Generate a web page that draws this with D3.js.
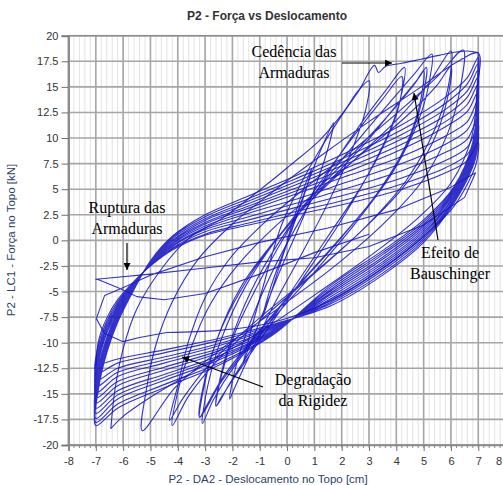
<!DOCTYPE html>
<html>
<head>
<meta charset="utf-8">
<script src="https://cdn.jsdelivr.net/npm/d3@7"></script>
<style>
  body { margin: 0; background: #fff; }
  svg { display: block; }
</style>
</head>
<body>
<svg id="chart" width="503" height="485"></svg>
<script>
// Axis ticks
const xTickValues = [-8, -7, -6, -5, -4, -3, -2, -1, 0, 1, 2, 3, 4, 5, 6, 7, 8];
const yTickValues = [-20, -17.5, -15, -12.5, -10, -7.5, -5, -2.5, 0, 2.5, 5, 7.5, 10, 12.5, 15, 17.5, 20];

// Displacement [cm], force [kN] — early elastic cycles
const elasticCycles = [
  [0, 0], [0.35, 3], [0.8, 6.4], [0.9, 7.0], [0.6, 4.2], [0, -0.3], [-0.5, -4.4], [-0.85, -7.2], [-0.9, -7.5],
  [-0.6, -4.6], [0, -0.2], [0.6, 4.4], [1.2, 8.6], [1.7, 11.5], [1.5, 9.0], [0.8, 3.6], [-0.2, -2.6],
  [-1.0, -7.9], [-1.5, -11.2], [-1.6, -12.0], [-1.3, -8.6], [-0.8, -3.8]
];

// Cycles of growing amplitude up to first yielding
const growingCycles = [
  [-0.8, -3.8], [-0.2, 1.5], [0.5, 5.5], [1.3, 9.3], [2.1, 12.6], [2.6, 14.6], [3.0, 15.6], [2.9, 13.0], [2.4, 9.0],
  [1.6, 4.2], [0.6, -1.0], [-0.5, -6.4], [-1.4, -11.4], [-1.9, -14.3], [-2.1, -15.5],
  [-1.9, -12.6], [-1.4, -8.4], [-0.6, -3.4], [0.5, 2.1], [1.6, 7.0], [2.7, 11.4], [3.6, 14.6], [4.3, 16.9],
  [4.2, 14.4], [3.8, 11.0], [3.0, 6.6], [1.9, 1.6], [0.6, -3.6], [-0.7, -8.6], [-1.8, -12.9], [-2.4, -15.3], [-2.6, -16.2],
  [-2.4, -13.2], [-1.9, -9.0], [-1.0, -4.0], [0.1, 1.2], [1.3, 6.0], [2.5, 10.4], [3.5, 13.8], [4.2, 16.0],
  [4.1, 13.2], [3.6, 9.6], [2.7, 5.2], [1.5, 0.4], [0.2, -4.8], [-1.1, -9.8], [-2.1, -14.0], [-2.6, -16.2],
  [-2.4, -12.9], [-1.9, -8.6], [-1.1, -3.8], [0.0, 1.0], [1.3, 5.6], [2.6, 9.8], [3.8, 13.6], [4.7, 16.4], [5.3, 18.2],
  [5.2, 15.4], [4.8, 11.6], [3.9, 6.8], [2.6, 2.0], [1.1, -2.8], [-0.5, -7.6], [-1.9, -12.2], [-2.7, -15.6], [-3.1, -17.9],
  [-2.9, -14.2], [-2.4, -9.6], [-1.5, -4.4], [-0.3, 0.4], [1.1, 4.9], [2.6, 9.0], [3.9, 12.8], [4.7, 15.4], [5.0, 16.6],
  [4.85, 13.2], [4.3, 9.0], [3.3, 4.6], [1.9, 0.0], [0.3, -4.8], [-1.2, -9.6], [-2.4, -13.8], [-3.2, -17.3],
  [-3.0, -13.5], [-2.4, -8.6], [-1.4, -3.6], [-0.1, 1.0], [1.4, 5.4], [2.9, 9.6], [4.0, 13.2], [4.8, 15.8], [5.1, 16.9],
  [4.95, 13.8], [4.5, 10.0], [3.6, 5.6], [2.2, 1.0], [0.6, -3.8], [-1.0, -8.8], [-2.3, -13.2], [-3.0, -16.4], [-3.2, -17.3],
  [-3.0, -13.8], [-2.5, -9.2], [-1.7, -4.6], [-0.5, -0.2], [1.0, 4.2], [2.6, 8.2], [4.1, 12.0], [5.2, 15.4], [6.0, 18.5],
  [5.9, 15.0], [5.4, 10.8], [4.4, 6.0], [2.9, 1.4], [1.1, -3.0], [-0.8, -7.4], [-2.5, -11.6], [-3.6, -15.2], [-4.2, -18.1],
  [-4.0, -14.8], [-3.5, -10.4], [-2.8, -6.2], [-1.8, -2.4], [-0.5, 1.2], [1.1, 4.8], [2.8, 8.6], [4.4, 12.2], [5.5, 15.2], [6.0, 17.0],
  [5.85, 13.6], [5.3, 9.4], [4.2, 5.0], [2.6, 0.6], [0.8, -3.6], [-1.1, -7.8], [-2.8, -12.0], [-3.8, -15.4], [-4.3, -17.6],
  [-4.0, -14.2], [-3.6, -9.8], [-3.0, -5.6], [-2.1, -1.8], [-0.8, 1.8], [0.7, 5.2], [2.4, 8.8], [4.1, 12.6], [5.5, 16.0], [6.45, 18.6],
  [6.35, 15.0], [5.9, 10.6], [5.0, 6.0], [3.6, 1.8], [1.8, -2.4], [-0.3, -6.6], [-2.4, -10.6], [-4.1, -14.4], [-5.3, -18.6],
  [-5.15, -14.6], [-4.8, -10.2], [-4.2, -6.0], [-3.3, -2.0], [-2.0, 1.6], [-0.5, 4.8], [1.2, 8.2], [3.0, 11.6], [4.8, 14.8], [6.2, 17.4], [7.0, 18.3],
  [6.95, 14.6], [6.75, 10.0], [6.0, 5.6], [4.8, 2.2], [3.2, -1.2], [1.3, -4.8], [-0.8, -8.6], [-2.9, -12.0], [-4.8, -15.0], [-6.0, -17.2], [-6.45, -18.4]
];

// Reloading along the envelope, yielding plateau of the bars
const yieldEnvelope = [
  [-6.45, -18.4], [-6.3, -14.6], [-6.0, -10.6], [-5.5, -6.7], [-4.6, -2.8], [-3.6, 0.2], [-2.35, 2.2], [-0.63, 5.7],
  [0.1, 7.3], [1.2, 9.8], [2.0, 12.3], [2.6, 14.5], [3.2, 17.1], [3.35, 16.4], [3.6, 17.0], [4.2, 17.3],
  [4.9, 17.7], [5.6, 18.1], [6.2, 18.4], [6.6, 18.5], [7.0, 18.35]
];

// Repeated ±7 cm cycles with strength degradation
const repeatedCycles = [
  [7.0, 18.35],
  [6.95, 14.5], [6.8, 9.6], [6.1, 5.2], [5.0, 2.0], [3.5, -1.0], [1.6, -4.4], [-0.5, -9.2], [-2.5, -12.2], [-4.5, -14.4], [-6.2, -16.4], [-7, -18.1],
  [-6.9, -14.5], [-6.6, -11.0], [-6.2, -8.0], [-5.6, -4.8], [-5.0, -2.0], [-4.2, 0.4], [-3.0, 2.5], [-1.4, 4.35], [0.3, 6.3], [2.2, 8.6], [4.2, 11.3], [5.8, 14.0], [6.6, 15.9], [7, 17.9],
  [6.95, 14.2], [6.8, 9.4], [6.1, 5.05], [5.0, 1.8], [3.5, -1.2], [1.6, -4.6], [-0.5, -9.1], [-2.5, -12.0], [-4.5, -14.1], [-6.2, -16.0], [-7, -17.8],
  [-6.9, -14.1], [-6.6, -10.7], [-6.2, -7.8], [-5.6, -4.7], [-5.0, -2.05], [-4.2, 0.3], [-3.0, 2.3], [-1.4, 4.1], [0.3, 6.0], [2.2, 8.2], [4.2, 10.8], [5.8, 13.4], [6.6, 15.3], [7, 17.3],
  [6.95, 13.8], [6.8, 9.2], [6.1, 4.9], [5.0, 1.6], [3.5, -1.4], [1.6, -4.8], [-0.5, -9.0], [-2.5, -11.7], [-4.5, -13.7], [-6.2, -15.5], [-7, -17.4],
  [-6.9, -13.6], [-6.6, -10.4], [-6.2, -7.6], [-5.6, -4.65], [-5.0, -2.1], [-4.2, 0.15], [-3.0, 2.1], [-1.4, 3.85], [0.3, 5.7], [2.2, 7.85], [4.2, 10.35], [5.8, 12.8], [6.6, 14.6], [7, 16.7],
  [6.95, 13.4], [6.8, 8.9], [6.1, 4.75], [5.0, 1.4], [3.5, -1.65], [1.6, -4.95], [-0.5, -8.9], [-2.5, -11.5], [-4.5, -13.4], [-6.2, -15.1], [-7, -16.9],
  [-6.9, -13.2], [-6.6, -10.1], [-6.2, -7.4], [-5.6, -4.6], [-5.0, -2.15], [-4.2, 0.0], [-3.0, 1.95], [-1.4, 3.6], [0.3, 5.4], [2.2, 7.5], [4.2, 9.9], [5.8, 12.2], [6.6, 14.0], [7, 16.0],
  [6.95, 12.8], [6.8, 8.7], [6.1, 4.6], [5.0, 1.2], [3.5, -1.85], [1.6, -5.15], [-0.5, -8.85], [-2.5, -11.3], [-4.5, -13.1], [-6.2, -14.7], [-7, -16.4],
  [-6.9, -12.8], [-6.6, -9.8], [-6.2, -7.2], [-5.6, -4.5], [-5.0, -2.2], [-4.2, -0.1], [-3.0, 1.75], [-1.4, 3.35], [0.3, 5.1], [2.2, 7.1], [4.2, 9.4], [5.8, 11.6], [6.6, 13.3], [7, 15.3],
  [6.95, 12.3], [6.8, 8.5], [6.1, 4.5], [5.0, 1.0], [3.5, -2.1], [1.6, -5.3], [-0.5, -8.8], [-2.5, -11.0], [-4.5, -12.7], [-6.2, -14.2], [-7, -15.9],
  [-6.9, -12.4], [-6.6, -9.5], [-6.2, -7.0], [-5.6, -4.45], [-5.0, -2.25], [-4.2, -0.25], [-3.0, 1.6], [-1.4, 3.15], [0.3, 4.8], [2.2, 6.7], [4.2, 8.9], [5.8, 11.1], [6.6, 12.6], [7, 14.6],
  [6.95, 11.8], [6.8, 8.3], [6.1, 4.3], [5.0, 0.8], [3.5, -2.3], [1.6, -5.5], [-0.5, -8.7], [-2.5, -10.8], [-4.5, -12.4], [-6.2, -13.8], [-7, -15.4],
  [-6.9, -11.9], [-6.6, -9.1], [-6.2, -6.8], [-5.6, -4.35], [-5.0, -2.25], [-4.2, -0.35], [-3.0, 1.4], [-1.4, 2.9], [0.3, 4.5], [2.2, 6.3], [4.2, 8.2], [5.8, 10.2], [6.6, 11.6], [7, 13.8],
  [6.95, 11.1], [6.8, 8.1], [6.1, 4.2], [5.0, 0.6], [3.5, -2.5], [1.6, -5.7], [-0.5, -8.6], [-2.5, -10.6], [-4.5, -12.0], [-6.2, -13.3], [-7, -14.9],
  [-6.9, -11.5], [-6.6, -8.8], [-6.2, -6.6], [-5.6, -4.3], [-5.0, -2.3], [-4.2, -0.5], [-3.0, 1.2], [-1.4, 2.65], [0.3, 4.0], [2.2, 5.7], [4.2, 7.5], [5.8, 9.4], [6.6, 10.8], [7, 13.0],
  [6.95, 10.5], [6.8, 7.9], [6.1, 4.0], [5.0, 0.4], [3.5, -2.75], [1.6, -5.85], [-0.5, -8.5], [-2.5, -10.3], [-4.5, -11.7], [-6.2, -12.9], [-7, -14.3],
  [-6.9, -11.1], [-6.6, -8.5], [-6.2, -6.4], [-5.6, -4.2], [-5.0, -2.35], [-4.2, -0.6], [-3.0, 1.05], [-1.4, 2.3], [0.3, 3.6], [2.2, 5.1], [4.2, 6.8], [5.8, 8.6], [6.6, 9.9], [7, 12.2],
  [6.95, 9.9], [6.8, 7.6], [6.1, 3.9], [5.0, 0.2], [3.5, -2.95], [1.6, -6.05], [-0.5, -8.4], [-2.5, -10.1], [-4.5, -11.4], [-6.2, -12.5], [-7, -13.7],
  [-6.9, -10.7], [-6.6, -8.2], [-6.2, -6.2], [-5.6, -4.15], [-5.0, -2.4], [-4.2, -0.75], [-3.0, 0.85], [-1.4, 2.0], [0.3, 3.2], [2.2, 4.5], [4.2, 6.1], [5.8, 7.8], [6.6, 9.1], [7, 11.4],
  [6.95, 9.2], [6.8, 7.4], [6.1, 3.75], [5.0, 0.0], [3.5, -3.2], [1.6, -6.2], [-0.5, -8.3], [-2.5, -9.8], [-4.5, -11.0], [-6.2, -12.0], [-7, -13.0],
  [-6.9, -10.2], [-6.6, -7.9], [-6.2, -6.0], [-5.6, -4.1], [-5.0, -2.45], [-4.2, -0.85], [-3.0, 0.6], [-1.4, 1.7], [0.3, 2.8], [2.2, 4.0], [4.2, 5.5], [5.8, 7.1], [6.6, 8.4], [7, 10.6],
  [6.95, 8.6], [6.8, 7.2], [6.1, 3.6], [5.0, -0.2], [3.5, -3.4], [1.6, -6.4], [-0.5, -8.2], [-2.5, -9.6], [-4.5, -10.7], [-6.2, -11.6], [-7, -12.3]
];

// Last smooth cycle before the bars rupture
const lastCycle = [
  [-7, -12.3], [-6.9, -9.8], [-6.6, -7.6], [-6.2, -5.8], [-5.6, -4.0], [-5.0, -2.5], [-4.2, -0.95], [-3.0, 0.5], [-1.4, 1.5],
  [0.3, 2.5], [2.2, 3.6], [4.2, 5.0], [5.8, 6.6], [6.6, 7.8], [7, 9.6],
  [6.95, 7.8], [6.8, 6.6], [6.1, 3.3], [5.0, 0.4], [3.5, -2.7], [1.6, -5.9], [-0.5, -8.0], [-2.5, -8.8], [-4.4, -9.0]
];

// Broken path after the bars rupture near -7 cm
const ruptureCycles = [
  [-4.4, -9.0], [-5.4, -9.5], [-6.0, -9.9], [-6.68, -9.1], [-6.98, -7.65], [-6.68, -5.4], [-6.07, -4.7], [-5.0, -3.4],
  [-3.0, -1.6], [-1.0, -0.2], [1.5, 1.2], [4.0, 3.0], [6.0, 5.2], [6.9, 6.6],
  [6.5, 4.2], [5.0, 1.5], [3.0, -0.6], [1.0, -1.7], [-1.0, -2.1], [-3.0, -2.7], [-5.0, -3.3], [-6.6, -3.7], [-7.0, -3.8],
  [-6.9, -3.85], [-6.2, -4.6], [-5.5, -5.5], [-4.5, -5.8], [-3.0, -5.2], [-1.0, -3.3], [1.0, -1.2], [3.0, 0.6]
];

const smoothCurves = [elasticCycles, growingCycles, yieldEnvelope, repeatedCycles, lastCycle];

const svg = d3.select("#chart");
const W = 503, H = 485;
const plot = { left: 68.5, right: 505.6, top: 35.7, bottom: 445 };

const x = d3.scaleLinear().domain([-8, 8]).range([plot.left, plot.right]);
const y = d3.scaleLinear().domain([-20, 20]).range([plot.bottom, plot.top]);

svg.append("rect").attr("width", W).attr("height", H).attr("fill", "#fff");

// Minor vertical grid
svg.append("g").selectAll("line").data(x.ticks(80))
  .join("line")
  .attr("x1", d => x(d)).attr("x2", d => x(d))
  .attr("y1", plot.top).attr("y2", plot.bottom)
  .attr("stroke", "#e3e3e3").attr("stroke-width", 1);

// Major grid
svg.append("g").selectAll("line").data(xTickValues)
  .join("line")
  .attr("x1", d => x(d)).attr("x2", d => x(d))
  .attr("y1", plot.top).attr("y2", plot.bottom)
  .attr("stroke", "#a6a6a6").attr("stroke-width", 1.6);
svg.append("g").selectAll("line").data(yTickValues)
  .join("line")
  .attr("x1", plot.left).attr("x2", plot.right)
  .attr("y1", d => y(d)).attr("y2", d => y(d))
  .attr("stroke", "#a6a6a6").attr("stroke-width", 1.6);

// Plot frame
svg.append("rect")
  .attr("x", plot.left).attr("y", plot.top)
  .attr("width", plot.right - plot.left).attr("height", plot.bottom - plot.top)
  .attr("fill", "none").attr("stroke", "#8c8c8c").attr("stroke-width", 1.5);

// Hysteresis curves
svg.append("clipPath").attr("id", "clip").append("rect")
  .attr("x", plot.left).attr("y", plot.top)
  .attr("width", plot.right - plot.left).attr("height", plot.bottom - plot.top);

const smoothLine = d3.line()
  .x(d => x(d[0])).y(d => y(d[1]))
  .curve(d3.curveCatmullRom.alpha(0.5));
const straightLine = d3.line()
  .x(d => x(d[0])).y(d => y(d[1]));

const curveLayer = svg.append("g").attr("clip-path", "url(#clip)");
const styleCurve = sel => sel
  .attr("fill", "none")
  .attr("stroke", "#1717c4")
  .attr("stroke-width", 1.1)
  .attr("stroke-opacity", 0.88)
  .attr("stroke-linejoin", "round");

curveLayer.selectAll("path.smooth").data(smoothCurves)
  .join("path").attr("class", "smooth")
  .attr("d", smoothLine)
  .call(styleCurve);
curveLayer.append("path").datum(ruptureCycles)
  .attr("d", straightLine)
  .call(styleCurve);

// Axes
const axisFont = "'Liberation Sans', Arial, sans-serif";
const yAxis = d3.axisLeft(y).tickValues(yTickValues).tickSize(7).tickPadding(3)
  .tickFormat(d => String(d));
const gy = svg.append("g").attr("transform", `translate(${plot.left},0)`).call(yAxis);
gy.select(".domain").attr("stroke", "#8c8c8c").attr("stroke-width", 2);
gy.selectAll(".tick line").attr("stroke", "#707070");
gy.selectAll("text").attr("font-family", axisFont).attr("font-size", 11).attr("fill", "#333");

const xAxis = d3.axisBottom(x).tickValues(xTickValues).tickSize(6).tickPadding(6)
  .tickFormat(d => String(d));
const gx = svg.append("g").attr("transform", `translate(0,${plot.bottom})`).call(xAxis);
gx.select(".domain").attr("stroke", "#8c8c8c").attr("stroke-width", 1.5);
gx.selectAll(".tick line").attr("stroke", "#707070");
gx.selectAll("text").attr("font-family", axisFont).attr("font-size", 11).attr("fill", "#333");
// the last label would run past the right edge; pull it inside
gx.selectAll(".tick text").filter(d => d === 8).attr("text-anchor", "end").attr("dx", "-4px");

// Minor x ticks
svg.append("g").selectAll("line").data(x.ticks(80))
  .join("line")
  .attr("x1", d => x(d)).attr("x2", d => x(d))
  .attr("y1", plot.bottom).attr("y2", plot.bottom + 3)
  .attr("stroke", "#8a8a8a").attr("stroke-width", 1);

// Titles
svg.append("text").attr("x", 267).attr("y", 20).attr("text-anchor", "middle")
  .attr("font-family", axisFont).attr("font-weight", "bold").attr("font-size", 12).attr("fill", "#333")
  .text("P2 - Força vs Deslocamento");
svg.append("text").attr("x", 268).attr("y", 483).attr("text-anchor", "middle")
  .attr("font-family", axisFont).attr("font-size", 11.5).attr("fill", "#2b3f6b")
  .text("P2 - DA2 - Deslocamento no Topo [cm]");
svg.append("text").attr("transform", "translate(15,240) rotate(-90)").attr("text-anchor", "middle")
  .attr("font-family", axisFont).attr("font-size", 11.5).attr("fill", "#2b3f6b")
  .text("P2 - LC1 - Força no Topo [kN]");

// Annotations
const serif = "'Liberation Serif', 'Times New Roman', serif";
svg.append("defs").append("marker")
  .attr("id", "arrow").attr("viewBox", "0 0 10 10").attr("refX", 10).attr("refY", 5)
  .attr("markerWidth", 9).attr("markerHeight", 7).attr("markerUnits", "userSpaceOnUse")
  .attr("orient", "auto")
  .append("path").attr("d", "M0,0L10,5L0,10z").attr("fill", "#000");

const notes = [
  { lines: ["Cedência das", "Armaduras"], x: 294, y: 57 },
  { lines: ["Ruptura das", "Armaduras"], x: 127, y: 213 },
  { lines: ["Efeito de", "Bauschinger"], x: 450, y: 258 },
  { lines: ["Degradação", "da Rigidez"], x: 313, y: 385 }
];
notes.forEach(n => {
  const t = svg.append("text").attr("text-anchor", "middle")
    .attr("font-family", serif).attr("font-size", 16).attr("fill", "#000");
  n.lines.forEach((s, i) => t.append("tspan").attr("x", n.x).attr("y", n.y + i * 21).text(s));
});

const arrows = [
  [342, 63, 392, 63],
  [127, 243, 127, 270],
  [438, 240, 414, 93],
  [263, 387, 182, 357]
];
svg.append("g").selectAll("line").data(arrows)
  .join("line")
  .attr("x1", d => d[0]).attr("y1", d => d[1]).attr("x2", d => d[2]).attr("y2", d => d[3])
  .attr("stroke", "#000").attr("stroke-width", 1.2)
  .attr("marker-end", "url(#arrow)");
</script>
</body>
</html>
